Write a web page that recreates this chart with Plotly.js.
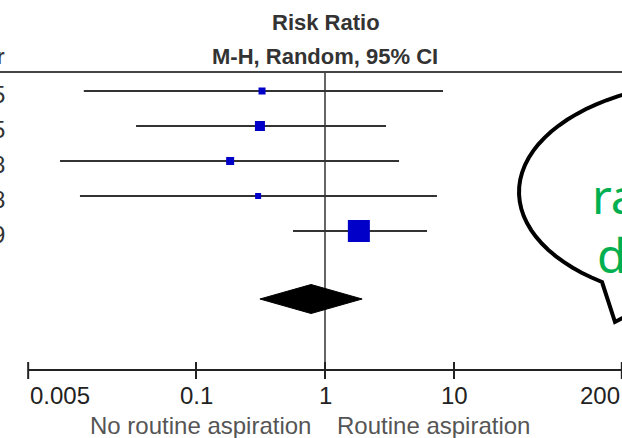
<!DOCTYPE html>
<html>
<head>
<meta charset="utf-8">
<script src="https://cdn.plot.ly/plotly-3.0.1.min.js"></script>
<style>html,body{margin:0;padding:0;background:#fff;}#chart{width:622px;height:438px;}</style>
</head>
<body>
<div id="chart"></div>
<script>
// ---- data ----
const studyLabels = ['5', '5', '8', '8', '9'];          // visible tail of the study column
const riskRatio   = [0.325, 0.313, 0.184, 0.303, 1.83];
const ciLow       = [0.0135, 0.0343, 0.00883, 0.0126, 0.565];
const ciHigh      = [8.22, 2.97, 3.75, 7.38, 6.18];
const weightPct   = [6.7, 13.6, 8.7, 4.9, 66.0];
const pooledRR    = [0.78];
const pooledLow   = [0.313];
const pooledHigh  = [1.94];
const tickVals    = [0.005, 0.1, 1, 10, 200];
const tickText    = ['0.005', '0.1', '1', '10', '200'];
const leftLabel   = 'No routine aspiration';
const rightLabel  = 'Routine aspiration';
const bubbleLines = ['ra', 'd'];

// ---- layout helpers ----
const W = 622, H = 438;
const rowY = (py) => 1 + (py - 91) / 35;        // pixel -> y index
const px2 = (px) => px / W, py2 = (py) => 1 - py / H;
const sans = 'Liberation Sans, Arial, sans-serif';
const rows = studyLabels.map((_, i) => i + 1);
const pooledRow = rowY(299);
const axisY = rowY(370);

const traces = [];
// CI lines
const cx = [], cy = [];
rows.forEach((r, i) => { cx.push(ciLow[i], ciHigh[i], null); cy.push(r, r, null); });
traces.push({x: cx, y: cy, mode: 'lines', line: {color: '#333', width: 2}, hoverinfo: 'skip', cliponaxis: false});
// line of no effect
traces.push({x: [1, 1], y: [rowY(72), axisY], mode: 'lines', line: {color: '#333', width: 1.5}, cliponaxis: false});
// study markers
traces.push({x: riskRatio, y: rows, mode: 'markers', cliponaxis: false,
  marker: {symbol: 'square', color: '#0000C8', opacity: 1, size: weightPct.map(w => 2.71 * Math.sqrt(w)), line: {width: 0}}});
// pooled diamond
const h = 14.5 / 35;
traces.push({x: [pooledLow[0], pooledRR[0], pooledHigh[0], pooledRR[0], pooledLow[0]],
  y: [pooledRow, pooledRow - h, pooledRow, pooledRow + h, pooledRow],
  mode: 'lines', fill: 'toself', fillcolor: '#000', line: {color: '#000', width: 1}});
// x axis line and ticks
traces.push({x: [tickVals[0], 400], y: [axisY, axisY], mode: 'lines', line: {color: '#222', width: 2}, cliponaxis: false});
const tx = [], ty = [];
tickVals.forEach(v => { tx.push(v, v, null); ty.push(rowY(362), rowY(379), null); });
traces.push({x: tx, y: ty, mode: 'lines', line: {color: '#222', width: 2}, cliponaxis: false});

const annotations = [];
annotations.push({xref: 'paper', yref: 'paper', x: px2(325.5), y: py2(22), text: 'Risk Ratio', showarrow: false,
  font: {family: sans, size: 22, color: '#333', weight: 'bold'}, xanchor: 'center', yanchor: 'middle'});
annotations.push({xref: 'paper', yref: 'paper', x: px2(325), y: py2(56), text: 'M-H, Random, 95% CI', showarrow: false,
  font: {family: sans, size: 22, color: '#333', weight: 'bold'}, xanchor: 'center', yanchor: 'middle'});
annotations.push({xref: 'paper', yref: 'paper', x: px2(7), y: py2(56), text: 'r', showarrow: false,
  font: {family: sans, size: 22, color: '#333', weight: 'bold'}, xanchor: 'right', yanchor: 'middle'});
studyLabels.forEach((s, i) => annotations.push({xref: 'paper', yref: 'y', x: px2(7), y: rows[i], yshift: -3, text: s,
  showarrow: false, font: {family: sans, size: 24, color: '#333'}, xanchor: 'right', yanchor: 'middle'}));
tickVals.forEach((v, i) => annotations.push({xref: 'x', yref: 'paper', x: Math.log10(v), y: py2(395), text: tickText[i],
  showarrow: false, font: {family: sans, size: 24, color: '#222'},
  xanchor: i === 0 ? 'left' : (i === tickVals.length - 1 ? 'right' : 'center'), yanchor: 'middle'}));
annotations.push({xref: 'paper', yref: 'paper', x: px2(313), y: py2(425), text: leftLabel, showarrow: false,
  font: {family: sans, size: 24, color: '#555'}, xanchor: 'right', yanchor: 'middle'});
annotations.push({xref: 'paper', yref: 'paper', x: px2(335), y: py2(425), text: rightLabel, showarrow: false,
  font: {family: sans, size: 24, color: '#555'}, xanchor: 'left', yanchor: 'middle'});
annotations.push({xref: 'paper', yref: 'paper', x: px2(590), y: py2(195), text: bubbleLines[0], showarrow: false,
  font: {family: 'Noto Sans, Open Sans, sans-serif', size: 48, color: '#00B050'}, xanchor: 'left', yanchor: 'middle'});
annotations.push({xref: 'paper', yref: 'paper', x: px2(595), y: py2(254), text: bubbleLines[1], showarrow: false,
  font: {family: 'Noto Sans, Open Sans, sans-serif', size: 48, color: '#00B050'}, xanchor: 'left', yanchor: 'middle'});

// speech bubble outline (ellipse + tail), in paper units
const ex = 719, ey = 192, rx = 200, ry = 111;
const t0 = 125.8 * Math.PI / 180, t1 = (107 + 360) * Math.PI / 180;
let path = '';
const N = 90;
for (let k = 0; k <= N; k++) {
  const t = t0 + (t1 - t0) * k / N;
  const X = ex + rx * Math.cos(t), Y = ey + ry * Math.sin(t);
  path += (k === 0 ? 'M' : 'L') + px2(X).toFixed(5) + ',' + py2(Y).toFixed(5) + ' ';
}
path += 'L' + px2(615).toFixed(5) + ',' + py2(322).toFixed(5) + ' Z';

const shapes = [
  {type: 'line', xref: 'paper', yref: 'y', x0: 0, x1: 1, y0: rowY(72), y1: rowY(72), line: {color: '#444', width: 2}},
  {type: 'path', xref: 'paper', yref: 'paper', path: path, fillcolor: '#fff', line: {color: '#000', width: 4}, layer: 'above'}
];

const layout = {
  width: W, height: H,
  margin: {l: 0, r: 0, t: 0, b: 0, pad: 0},
  paper_bgcolor: '#fff', plot_bgcolor: '#fff',
  showlegend: false,
  xaxis: {type: 'log', range: [-325 / 129, (W - 325) / 129], showgrid: false, zeroline: false, showline: false,
    showticklabels: false, ticks: '', fixedrange: true},
  yaxis: {range: [rowY(H), rowY(0)], showgrid: false, zeroline: false, showline: false, showticklabels: false,
    ticks: '', fixedrange: true},
  annotations: annotations,
  shapes: shapes
};
Plotly.newPlot('chart', traces, layout, {staticPlot: true, displayModeBar: false});
</script>
</body>
</html>
